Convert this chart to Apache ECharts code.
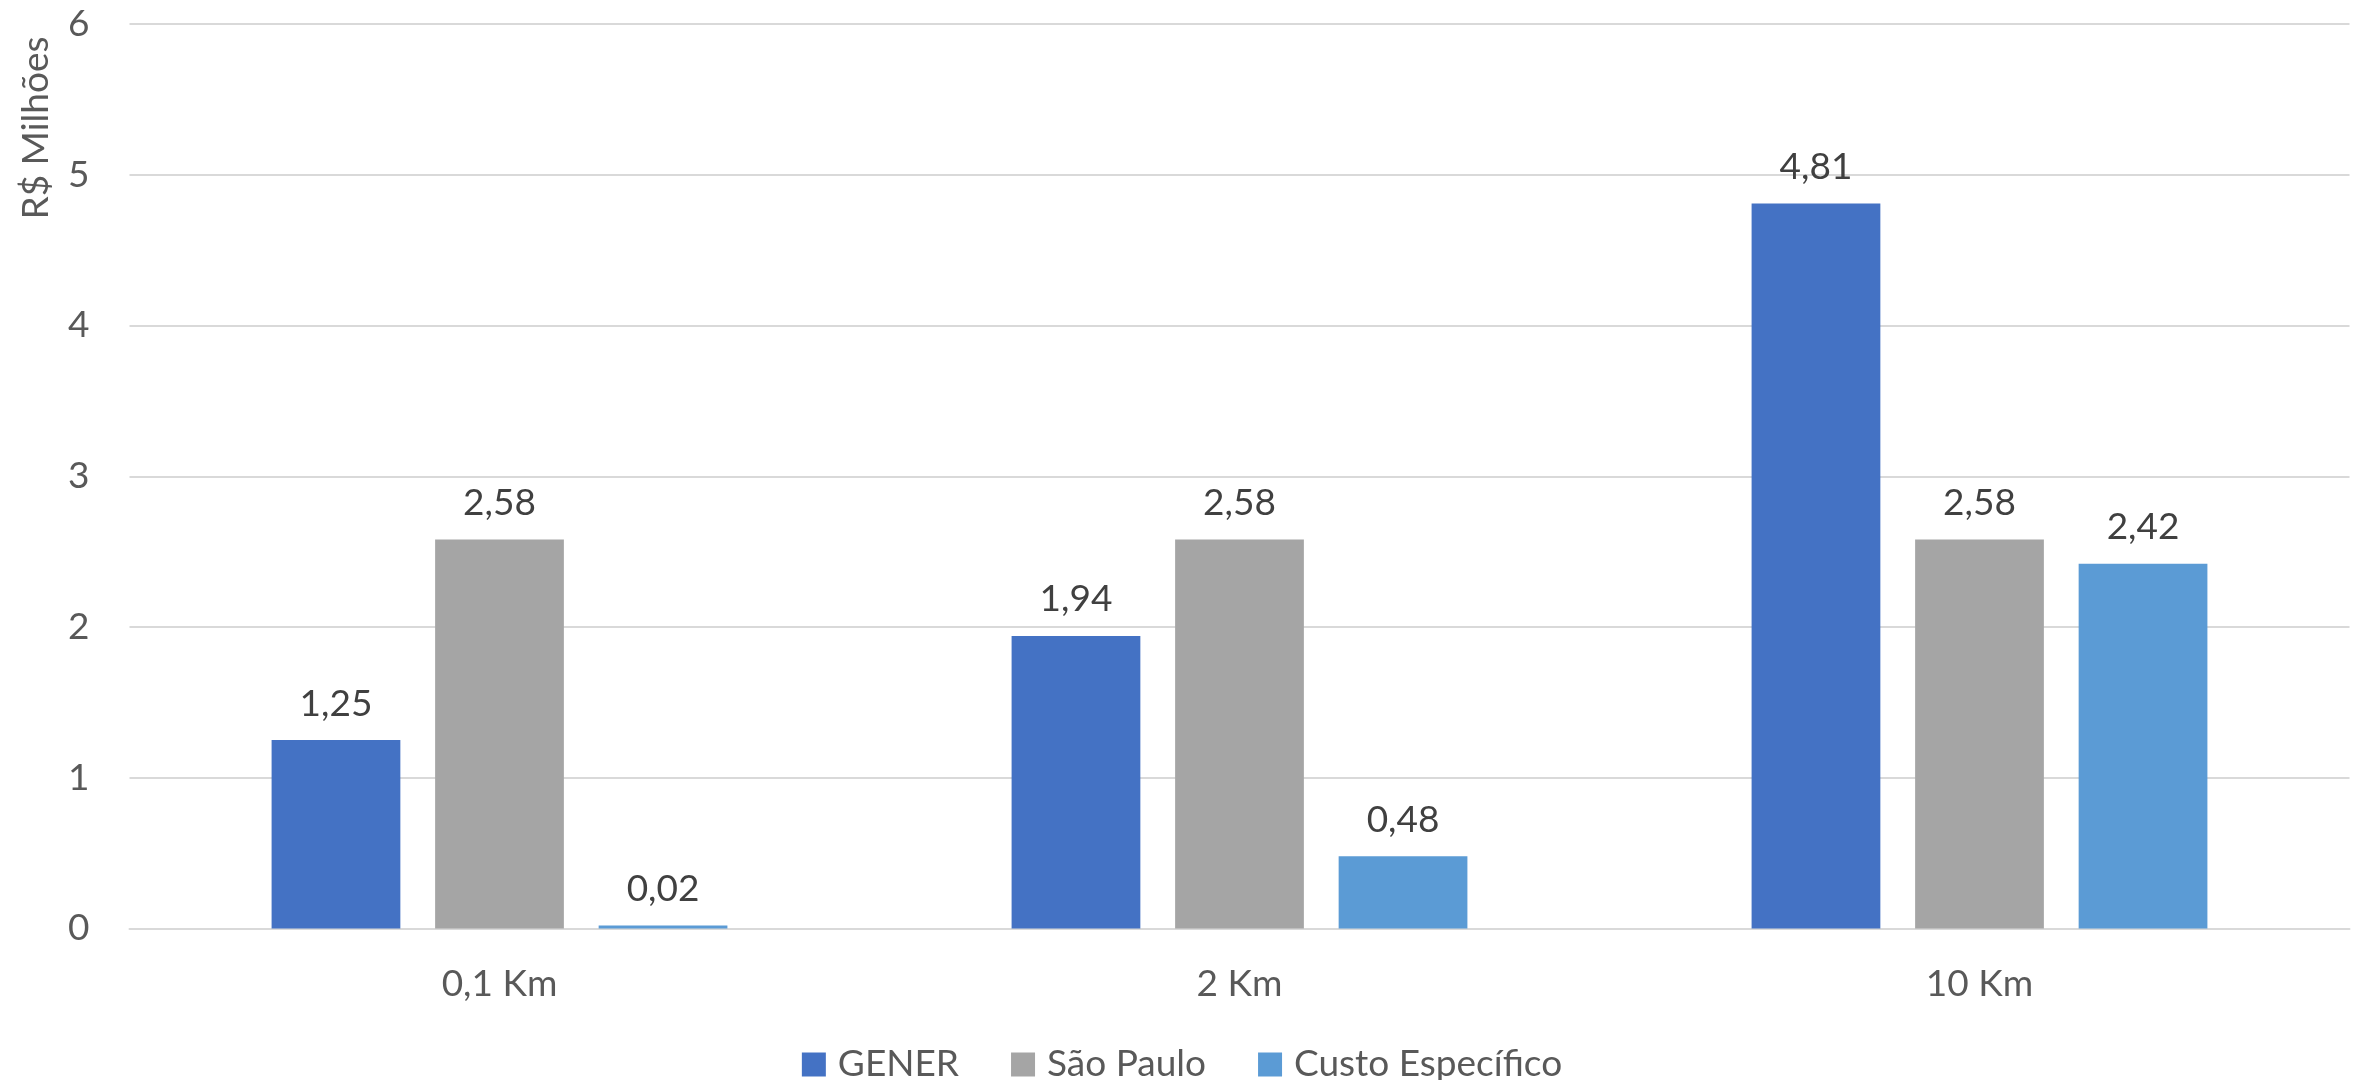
<!DOCTYPE html>
<html>
<head>
<meta charset="utf-8">
<script src="https://cdn.jsdelivr.net/npm/echarts@6/dist/echarts.min.js"></script>
<style>
  html, body { margin: 0; padding: 0; background: #fff; }
  #chart { width: 2364px; height: 1080px; }
</style>
</head>
<body>
<div id="chart"></div>
<script>
// Distâncias avaliadas
const categories = ['0,1 Km', '2 Km', '10 Km'];
// Custos em R$ milhões
const gener = [1.25, 1.94, 4.81];
const saoPaulo = [2.58, 2.58, 2.58];
const custoEspecifico = [0.02, 0.48, 2.42];
// Eixo vertical
const yTicks = { min: 0, max: 6, interval: 1 };

const FONT = 'Lato';
const fmt = v => v.toFixed(2).replace('.', ',');

function barSeries(name, data, color) {
  return {
    name: name,
    type: 'bar',
    data: data,
    barWidth: '17.4%',
    barGap: '27%',
    itemStyle: { color: color },
    label: {
      show: true,
      position: 'top',
      distance: 18,
      color: '#404040',
      fontFamily: FONT,
      fontSize: 37,
      formatter: p => fmt(p.value)
    }
  };
}

const chart = echarts.init(document.getElementById('chart'), null, { renderer: 'canvas' });
chart.setOption({
  animation: false,
  backgroundColor: '#ffffff',
  grid: { left: 129.5, right: 14.5, top: 24, bottom: 151.5 },
  xAxis: {
    type: 'category',
    data: categories,
    axisLine: { show: true, lineStyle: { color: '#d9d9d9', width: 2 } },
    axisTick: { show: false },
    axisLabel: { color: '#595959', fontFamily: FONT, fontSize: 37, margin: 37 }
  },
  yAxis: {
    type: 'value',
    min: yTicks.min,
    max: yTicks.max,
    interval: yTicks.interval,
    axisLine: { show: false },
    axisTick: { show: false },
    splitLine: { lineStyle: { color: '#d9d9d9', width: 2 } },
    axisLabel: { color: '#595959', fontFamily: FONT, fontSize: 37, margin: 40 }
  },
  legend: {
    left: 'center',
    top: 1041,
    itemWidth: 24,
    itemHeight: 24,
    itemGap: 52,
    icon: 'rect',
    textStyle: { color: '#595959', fontFamily: FONT, fontSize: 37, padding: [0, 0, 0, 7] },
    data: ['GENER', 'São Paulo', 'Custo Específico']
  },
  graphic: [{
    type: 'text',
    x: 36,
    y: 128,
    rotation: Math.PI / 2,
    style: {
      text: 'R$ Milhões',
      fill: '#595959',
      font: '37px ' + FONT,
      align: 'center',
      verticalAlign: 'middle'
    }
  }],
  series: [
    barSeries('GENER', gener, '#4472C4'),
    barSeries('São Paulo', saoPaulo, '#A5A5A5'),
    barSeries('Custo Específico', custoEspecifico, '#5B9BD5')
  ]
});
</script>
</body>
</html>
